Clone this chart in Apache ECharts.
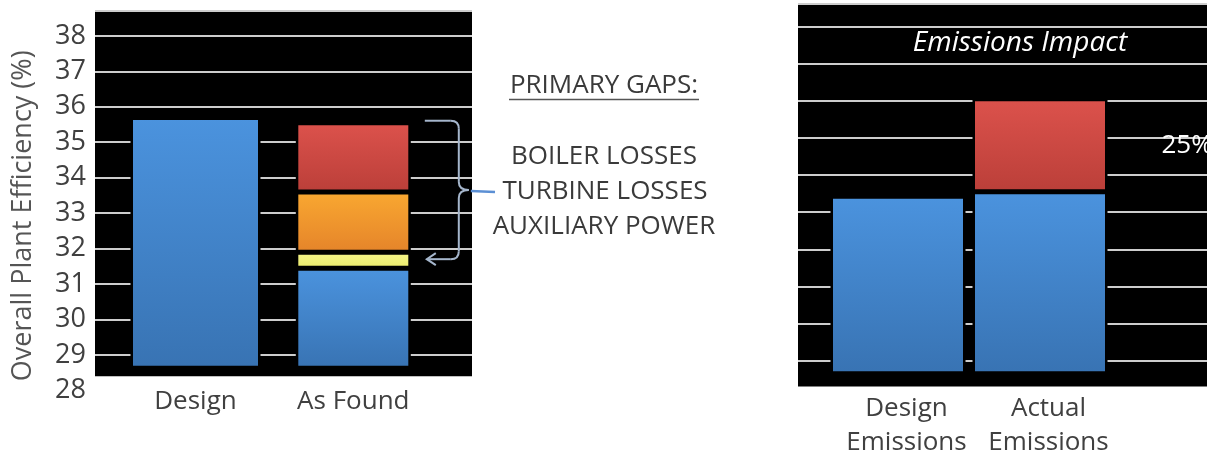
<!DOCTYPE html>
<html>
<head>
<meta charset="utf-8">
<script src="https://cdn.jsdelivr.net/npm/echarts@6/dist/echarts.min.js"></script>
<style>
  html, body { margin: 0; padding: 0; background: #ffffff; }
  #chart { width: 1207px; height: 454px; }
</style>
</head>
<body>
<div id="chart"></div>
<script>
// ---- Plant efficiency (%) ----
const efficiencyCategories = ['Design', 'As Found'];
const efficiencyTicks = [28, 29, 30, 31, 32, 33, 34, 35, 36, 37, 38];
const designEfficiency = [35.7, '-'];
const asFoundEfficiency = ['-', 31.45];
const auxiliaryPowerGap = ['-', 0.45];
const turbineLossGap = ['-', 1.7];
const boilerLossGap = ['-', 1.95];
const gapHeading = 'PRIMARY GAPS:';
const gapLabels = ['BOILER LOSSES', 'TURBINE LOSSES', 'AUXILIARY POWER'];

// ---- Emissions (relative units, increase in %) ----
const emissionCategories = ['Design\nEmissions', 'Actual\nEmissions'];
const baseEmissions = [54.3, 55.5];
const emissionIncrease = ['-', 25];
const emissionTitle = 'Emissions Impact';

// ---- look ----
const FONT = '"Open Sans", "DejaVu Sans", sans-serif';
const TEXT = '#404040';
const RULE = '#cdcdcd';
const SEP = 2.5; // black separation drawn inside every bar
const grad = (top, bottom) => ({
  type: 'linear', x: 0, y: 0, x2: 0, y2: 1,
  colorStops: [{ offset: 0, color: top }, { offset: 1, color: bottom }]
});
const BLUE = grad('#4b93de', '#3873b3');
const RED = grad('#dc524c', '#bb3f39');
const ORANGE = grad('#f9a831', '#e5842a');
const YELLOW = grad('#f4f48a', '#ecec6c');

// ---- vertical scales (pixels per unit) ----
const eff = { top: 11, px: 35.47, max: 38.7, barFloor: 28.66, panelFloor: 28.4 };
const emi = { top: 4, px: 3.718, max: 106, ruleMin: 10, barFloor: 6.9, panelFloor: 3.1 };
const effMin = efficiencyTicks[0];

function box(left, width, top, px, min, max) {
  return { left: left, width: width, top: top, height: (max - min) * px, outerBoundsMode: 'none' };
}

function panel(xi, yi, floor) {
  return {
    type: 'custom', xAxisIndex: xi, yAxisIndex: yi, z: -1, silent: true, clip: false,
    data: [[0, floor]],
    renderItem: function (params, api) {
      const cs = params.coordSys;
      const bottom = api.coord([0, floor])[1];
      return {
        type: 'rect',
        shape: { x: cs.x, y: cs.y, width: cs.width, height: bottom - cs.y },
        style: { fill: '#000000' }
      };
    }
  };
}

const hiddenValueX = (g) => ({ type: 'value', gridIndex: g, min: 0, max: 1, show: false });
const segment = (name, data, color) => ({
  name: name, type: 'bar', xAxisIndex: 3, yAxisIndex: 2, stack: 'asFound',
  barWidth: 115, data: data,
  itemStyle: { color: color, borderColor: '#000', borderWidth: SEP }
});

const chart = echarts.init(document.getElementById('chart'));

chart.setOption({
  animation: false,
  backgroundColor: '#ffffff',
  textStyle: { fontFamily: FONT },
  grid: [
    box(95, 377, eff.top, eff.px, effMin, eff.max),            // tick labels
    box(95, 377, eff.top, eff.px, effMin + 1, eff.max),        // panel + rules
    box(116.6, 315.6, eff.top, eff.px, eff.barFloor, eff.max), // bars
    box(798, 409, emi.top, emi.px, emi.ruleMin, emi.max),      // panel + rules
    box(827, 284, emi.top, emi.px, emi.barFloor, emi.max)      // bars
  ],
  xAxis: [
    hiddenValueX(0),
    hiddenValueX(1),
    {
      type: 'category', gridIndex: 2, data: efficiencyCategories,
      axisLine: { show: false }, axisTick: { show: false },
      axisLabel: { color: TEXT, fontSize: 26, fontFamily: FONT, margin: 21, interval: 0 }
    },
    { type: 'category', gridIndex: 2, data: efficiencyCategories, position: 'top', show: false },
    hiddenValueX(3),
    {
      type: 'category', gridIndex: 4, data: emissionCategories,
      axisLine: { show: false }, axisTick: { show: false },
      axisLabel: {
        color: TEXT, fontSize: 26, fontFamily: FONT, lineHeight: 34, margin: 19,
        padding: [0, 0, 0, 17], interval: 0, hideOverlap: false
      }
    }
  ],
  yAxis: [
    {
      type: 'value', gridIndex: 0, min: effMin, max: eff.max, interval: 1,
      axisLine: { show: false }, axisTick: { show: false }, splitLine: { show: false },
      axisLabel: {
        color: TEXT, fontSize: 27, fontFamily: FONT, margin: 9,
        formatter: (v) => (efficiencyTicks.indexOf(v) >= 0 ? String(v) : '')
      },
      name: 'Overall Plant Efficiency (%)', nameLocation: 'middle', nameGap: 58,
      nameTextStyle: { color: '#555555', fontSize: 27, fontFamily: FONT, padding: [0, 30, 0, 0] }
    },
    {
      type: 'value', gridIndex: 1, min: effMin + 1, max: eff.max, interval: 1,
      axisLine: { show: false }, axisTick: { show: false }, axisLabel: { show: false },
      splitLine: { show: true, lineStyle: { color: RULE, width: 2 } }
    },
    { type: 'value', gridIndex: 2, min: eff.barFloor, max: eff.max, show: false },
    {
      type: 'value', gridIndex: 3, min: emi.ruleMin, max: emi.max, interval: 10,
      axisLine: { show: false }, axisTick: { show: false }, axisLabel: { show: false },
      splitLine: { show: true, lineStyle: { color: RULE, width: 2 } }
    },
    { type: 'value', gridIndex: 4, min: emi.barFloor, max: emi.max, show: false }
  ],
  series: [
    panel(1, 1, eff.panelFloor),
    {
      name: 'Design', type: 'bar', xAxisIndex: 2, yAxisIndex: 2, barWidth: 130,
      data: designEfficiency,
      itemStyle: { color: BLUE, borderColor: '#000', borderWidth: SEP }
    },
    segment('As Found', asFoundEfficiency, BLUE),
    segment('Auxiliary Power', auxiliaryPowerGap, YELLOW),
    segment('Turbine Losses', turbineLossGap, ORANGE),
    segment('Boiler Losses', boilerLossGap, RED),

    panel(4, 3, emi.panelFloor),
    {
      name: 'Emissions', type: 'bar', xAxisIndex: 5, yAxisIndex: 4, stack: 'emissions',
      barWidth: 135, data: baseEmissions,
      itemStyle: { color: BLUE, borderColor: '#000', borderWidth: SEP }
    },
    {
      name: 'Increase', type: 'bar', xAxisIndex: 5, yAxisIndex: 4, stack: 'emissions',
      barWidth: 135, data: emissionIncrease,
      itemStyle: { color: RED, borderColor: '#000', borderWidth: SEP },
      label: {
        show: true, position: 'right', distance: 54, formatter: '{c}%',
        color: '#ffffff', fontSize: 26, fontFamily: FONT
      }
    }
  ]
});

// ---- annotations: gap list, brace and emissions heading ----
const txt = (text, x, y, fill, font) => ({
  type: 'text', x: x, y: y, z: 100, silent: true,
  style: {
    text: text, fill: fill, font: font,
    textAlign: 'center', textVerticalAlign: 'middle', align: 'center', verticalAlign: 'middle'
  }
});
const seg = (x1, y1, x2, y2, color, w) => ({
  type: 'line', z: 100, silent: true, shape: { x1: x1, y1: y1, x2: x2, y2: y2 },
  style: { stroke: color, lineWidth: w }
});
const curve = (x1, y1, cx, cy, x2, y2, color, w) => ({
  type: 'bezierCurve', z: 100, silent: true,
  shape: { x1: x1, y1: y1, cpx1: cx, cpy1: cy, x2: x2, y2: y2 },
  style: { stroke: color, lineWidth: w, fill: null }
});

const toPx = (v) => chart.convertToPixel({ xAxisIndex: 3, yAxisIndex: 2 }, ['As Found', v]);
const total = asFoundEfficiency[1] + auxiliaryPowerGap[1] + turbineLossGap[1] + boilerLossGap[1];
const topPt = toPx(total);
const arrowPt = toPx(asFoundEfficiency[1] + auxiliaryPowerGap[1] / 2);
const barRight = topPt[0] + 115 / 2;
const y0 = topPt[1] - 2, y1 = arrowPt[1] - 1, ym = (y0 + y1) / 2;
const xs = barRight + 14, xv = barRight + 48, xt = barRight + 58, xa = barRight + 16, r = 8;
const BRACE = '#a5b6cc';

const bodyFont = '26px ' + FONT;
chart.setOption({
  graphic: [
    txt(gapHeading, 604, 86, '#3a3a3a', bodyFont),
    seg(509, 99.5, 699, 99.5, '#555555', 1.5),
    txt(gapLabels[0], 604, 157, '#3a3a3a', bodyFont),
    txt(gapLabels[1], 605, 192, '#3a3a3a', bodyFont),
    txt(gapLabels[2], 604, 227, '#3a3a3a', bodyFont),

    seg(xs, y0, xv - r, y0, BRACE, 2),
    curve(xv - r, y0, xv, y0, xv, y0 + r, BRACE, 2),
    seg(xv, y0 + r, xv, ym - r, BRACE, 2),
    curve(xv, ym - r, xv, ym, xt, ym, BRACE, 2),
    curve(xt, ym, xv, ym, xv, ym + r, BRACE, 2),
    seg(xv, ym + r, xv, y1 - r, BRACE, 2),
    curve(xv, y1 - r, xv, y1, xv - r, y1, BRACE, 2),
    seg(xv - r, y1, xa, y1, BRACE, 2),
    {
      type: 'polyline', z: 100, silent: true,
      shape: { points: [[xa + 9, y1 - 6], [xa, y1], [xa + 9, y1 + 6]] },
      style: { stroke: BRACE, lineWidth: 2, fill: null }
    },
    seg(xt + 2, ym + 1, 495, ym + 2, '#5b8fd4', 2.5),

    txt(emissionTitle, 1020, 43, '#ffffff', 'italic 28px ' + FONT)
  ]
});
</script>
</body>
</html>
